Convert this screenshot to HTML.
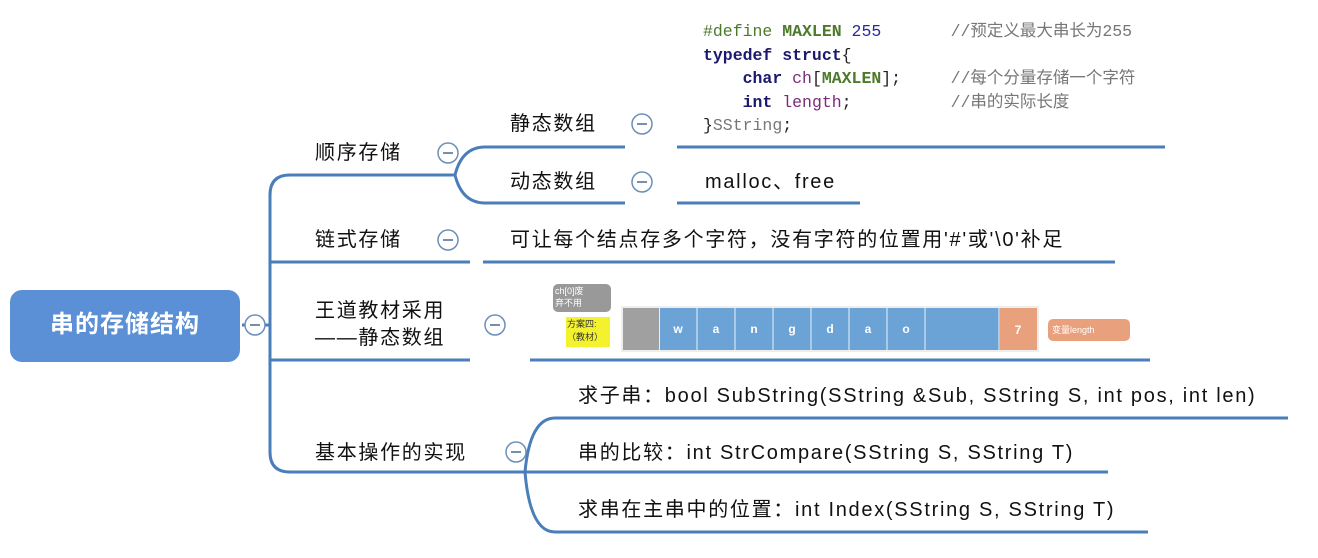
<!DOCTYPE html>
<html><head><meta charset="utf-8"><style>
body{margin:0;width:1318px;height:558px;background:#fff;overflow:hidden;position:relative;font-family:"Liberation Sans","Noto Sans CJK SC",sans-serif;color:#111}
.t{position:absolute;font-size:20px;letter-spacing:1.7px;white-space:nowrap;line-height:24px}
.code{position:absolute;left:703px;top:20px;font-family:"Liberation Mono","Noto Sans CJK SC",monospace;font-size:16.5px;line-height:23.5px;white-space:pre;color:#222}
.k{color:#1a1a6e;font-weight:bold}.g{color:#4d7a2a}.n{color:#2a2aa0}.c{color:#777}.p{color:#7a2a7a}
.cell{position:absolute;top:308px;height:42px;width:36px;background:#6ba3d6;border-right:2px solid #a9cbe8;color:#fff;font-weight:bold;font-size:12px;text-align:center;line-height:42px}
</style></head><body>
<svg width="1318" height="558" style="position:absolute;left:0;top:0">
<g fill="none" stroke="#4a7ebb" stroke-width="3">
<path d="M242 325 H270"/>
<path d="M290 175 Q270 175 270 195 V452 Q270 472 290 472"/>
<path d="M270 262 H470"/>
<path d="M270 360 H470"/>
<path d="M290 175 H455"/>
<path d="M455 175 Q462 147 485 147 H625"/>
<path d="M455 175 Q462 203 485 203 H625"/>
<path d="M677 147 H1165"/>
<path d="M677 203 H860"/>
<path d="M483 262 H1115"/>
<path d="M530 360 H1150"/>
<path d="M290 472 H525"/>
<path d="M525 472 Q530 418 555 418 H1288"/>
<path d="M525 472 H1108"/>
<path d="M525 472 Q530 532 555 532 H1148"/>
</g>
<g fill="#fff" stroke="#6b8fb8" stroke-width="1.5">
<circle cx="255" cy="325" r="10"/><circle cx="448" cy="153" r="10"/><circle cx="642" cy="124" r="10"/><circle cx="642" cy="182" r="10"/><circle cx="448" cy="240" r="10"/><circle cx="495" cy="325" r="10"/><circle cx="516" cy="452" r="10"/>
</g>
<g stroke="#4a6a90" stroke-width="1.5">
<path d="M250 325h10M443 153h10M637 124h10M637 182h10M443 240h10M490 325h10M511 452h10"/>
</g>
<rect x="10" y="290" width="230" height="72" rx="12" fill="#5b8fd6"/>
<rect x="621" y="306" width="418" height="46" fill="#eee"/>
<rect x="623" y="308" width="36" height="42" fill="#a0a0a0"/>
<rect x="999" y="308" width="38" height="42" fill="#e9a07d"/>
<rect x="553" y="284" width="58" height="28" rx="5" fill="#999"/>
<rect x="566" y="317" width="44" height="30" fill="#f4f22e"/>
<rect x="1048" y="319" width="82" height="22" rx="5" fill="#e9a07d"/>
</svg>
<div class="t" style="left:10px;top:313px;width:230px;text-align:center;color:#fff;font-size:24px;letter-spacing:1px;font-weight:bold">串的存储结构</div>
<div class="t" style="left:315px;top:141px">顺序存储</div>
<div class="t" style="left:510px;top:112px">静态数组</div>
<div class="t" style="left:510px;top:170px">动态数组</div>
<div class="t" style="left:705px;top:170px">malloc、free</div>
<div class="t" style="left:315px;top:228px">链式存储</div>
<div class="t" style="left:510px;top:228px">可让每个结点存多个字符，没有字符的位置用'#'或'\0'补足</div>
<div class="t" style="left:315px;top:299px">王道教材采用</div>
<div class="t" style="left:315px;top:326px">——静态数组</div>
<div class="t" style="left:315px;top:441px">基本操作的实现</div>
<div class="t" style="left:578px;top:384px">求子串：bool SubString(SString &amp;Sub, SString S, int pos, int len)</div>
<div class="t" style="left:578px;top:441px">串的比较：int StrCompare(SString S, SString T)</div>
<div class="t" style="left:578px;top:498px">求串在主串中的位置：int Index(SString S, SString T)</div>
<div class="code"><span class="g">#define</span> <span class="g" style="font-weight:bold">MAXLEN</span> <span class="n">255</span>       <span class="c">//预定义最大串长为255</span>
<span class="k">typedef struct</span>{
    <span class="k">char</span> <span class="p">ch</span>[<span class="g" style="font-weight:bold">MAXLEN</span>];     <span class="c">//每个分量存储一个字符</span>
    <span class="k">int</span> <span class="p">length</span>;          <span class="c">//串的实际长度</span>
}<span class="c">SString</span>;</div>
<div class="cell" style="left:660px">w</div><div class="cell" style="left:698px">a</div><div class="cell" style="left:736px">n</div><div class="cell" style="left:774px">g</div><div class="cell" style="left:812px">d</div><div class="cell" style="left:850px">a</div><div class="cell" style="left:888px">o</div><div class="cell" style="left:926px"></div><div class="cell" style="left:962px"></div>
<div class="t" style="left:999px;top:318px;width:38px;text-align:center;color:#fff;font-size:12px;font-weight:bold;letter-spacing:0">7</div>
<div class="t" style="left:555px;top:285px;font-size:9px;letter-spacing:0;line-height:12px;color:#fff">ch[0]废<br>弃不用</div>
<div class="t" style="left:567px;top:318px;font-size:9px;letter-spacing:0;line-height:13px;color:#333">方案四:<br>（教材）</div>
<div class="t" style="left:1052px;top:322px;font-size:9px;letter-spacing:0;line-height:16px;color:#fff">变量length</div>
</body></html>
